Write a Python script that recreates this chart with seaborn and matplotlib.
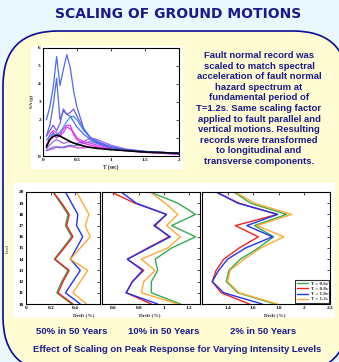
import numpy as np
import pandas as pd
from matplotlib import pyplot as plt
from matplotlib.patches import FancyBboxPatch, Rectangle
import seaborn as sns

sns.set_theme(style="white")
plt.rcParams['font.family'] = ['Liberation Sans', 'DejaVu Sans']

W, H = 339, 362
NAVY = '#1a1a8a'

# ---- top chart: scaled spectra (SA in g vs period in sec)
period = [0.05, 0.1, 0.15, 0.2, 0.25, 0.3, 0.35, 0.4, 0.45, 0.5, 0.6, 0.7, 0.8, 1.0, 1.2, 1.5, 2.0]
sa_rec1 = [2.0, 2.7, 3.8, 5.5, 3.9, 4.8, 5.6, 4.9, 3.6, 2.7, 1.5, 1.0, 0.8, 0.5, 0.35, 0.25, 0.15]
sa_rec2 = [1.1, 1.7, 2.8, 4.3, 2.0, 2.5, 2.3, 2.2, 1.9, 1.6, 1.2, 0.9, 0.7, 0.45, 0.32, 0.22, 0.13]
sa_rec3 = [1.1, 1.4, 1.7, 1.4, 1.8, 2.6, 2.3, 2.4, 2.6, 2.2, 1.5, 1.0, 0.8, 0.5, 0.35, 0.25, 0.15]
sa_rec4 = [0.9, 1.1, 1.2, 1.2, 1.3, 1.6, 1.9, 2.15, 2.2, 2.0, 1.4, 1.0, 0.75, 0.5, 0.35, 0.25, 0.15]
sa_rec5 = [0.6, 0.9, 1.3, 1.0, 1.2, 1.5, 1.7, 1.7, 1.2, 0.9, 0.7, 0.6, 0.5, 0.4, 0.3, 0.2, 0.1]
sa_rec6 = [0.5, 1.2, 1.4, 1.3, 1.1, 1.3, 1.6, 1.5, 1.3, 1.0, 0.8, 0.7, 0.6, 0.45, 0.35, 0.22, 0.12]
sa_rec7 = [0.4, 0.6, 0.8, 0.9, 0.8, 0.7, 0.75, 0.8, 0.7, 0.7, 0.8, 1.0, 0.9, 0.6, 0.4, 0.25, 0.15]
sa_rec8 = [0.3, 0.4, 0.5, 0.5, 0.45, 0.5, 0.55, 0.6, 0.55, 0.6, 0.7, 0.8, 0.7, 0.5, 0.35, 0.25, 0.15]
sa_rec9 = [0.3, 0.35, 0.4, 0.5, 0.5, 0.45, 0.5, 0.55, 0.5, 0.45, 0.45, 0.5, 0.45, 0.4, 0.3, 0.2, 0.1]
sa_target = [0.5, 0.9, 1.08, 1.15, 1.1, 1.0, 0.9, 0.8, 0.72, 0.65, 0.55, 0.47, 0.42, 0.35, 0.3, 0.22, 0.15]

# ---- bottom charts: peak drift (%) per level
levels = [10, 11, 12, 13, 14, 15, 16, 17, 18, 19, 20]
periods = ['T = 0.6s', 'T = 0.8s', 'T = 1.0s', 'T = 1.2s']
period_colors = ['#33aa55', '#ee2222', '#2233ee', '#ffaa33']

drift50_t06 = [0.37, 0.25, 0.29, 0.34, 0.23, 0.30, 0.37, 0.32, 0.34, 0.28, 0.22]
drift50_t08 = [0.38, 0.26, 0.30, 0.35, 0.235, 0.31, 0.38, 0.33, 0.35, 0.29, 0.22]
drift50_t10 = [0.44, 0.32, 0.38, 0.44, 0.36, 0.41, 0.46, 0.41, 0.42, 0.37, 0.32]
drift50_t12 = [0.49, 0.38, 0.44, 0.50, 0.36, 0.44, 0.52, 0.48, 0.51, 0.46, 0.41]

drift10_t06 = [1.13, 0.90, 0.90, 0.95, 0.93, 1.06, 1.25, 1.06, 1.25, 1.11, 0.89]
drift10_t08 = [0.90, 0.70, 0.75, 0.84, 0.71, 0.87, 1.04, 0.93, 1.02, 0.77, 0.58]
drift10_t10 = [0.95, 0.70, 0.75, 0.83, 0.71, 0.88, 1.05, 0.92, 1.02, 0.78, 0.66]
drift10_t12 = [1.11, 0.82, 0.84, 0.93, 0.82, 1.03, 1.13, 1.02, 1.11, 1.01, 0.89]

drift2_t06 = [1.77, 1.48, 1.39, 1.41, 1.50, 1.64, 1.76, 1.61, 1.86, 1.58, 1.45]
drift2_t08 = [1.57, 1.35, 1.28, 1.31, 1.37, 1.49, 1.64, 1.46, 1.79, 1.49, 1.31]
drift2_t10 = [1.67, 1.37, 1.28, 1.33, 1.40, 1.54, 1.75, 1.55, 1.79, 1.48, 1.31]
drift2_t12 = [1.79, 1.49, 1.40, 1.42, 1.53, 1.66, 1.84, 1.63, 1.90, 1.61, 1.46]


def px_axes(fig, x0, y0, x1, y1):
    # pixel box (top-left origin) -> figure axes
    return fig.add_axes([x0 / W, 1 - y1 / H, (x1 - x0) / W, (y1 - y0) / H])


def matlab_look(ax):
    for s in ax.spines.values():
        s.set_color('black')
        s.set_linewidth(0.8)
    ax.tick_params(direction='in', length=2, width=0.5, top=True, right=True,
                   labelsize=3.8, pad=1.5, colors='black')
    for lab in ax.get_xticklabels() + ax.get_yticklabels():
        lab.set_family('Liberation Serif')
        lab.set_weight('bold')


fig = plt.figure(figsize=(W / 100, H / 100), dpi=100)
fig.patch.set_facecolor('#eaf8fd')

bg = fig.add_axes([0, 0, 1, 1])
bg.set_xlim(0, W)
bg.set_ylim(0, H)
bg.axis('off')
bg.add_patch(FancyBboxPatch((3, -10), 345, 341, boxstyle='round,pad=0,rounding_size=55',
                            facecolor='#fffcd3', edgecolor='#0a0a9c', linewidth=1.2))
bg.add_patch(Rectangle((31, H - 169), 152, 123, facecolor='white', edgecolor='none'))
bg.add_patch(Rectangle((13, H - 318), 322, 135, facecolor='white', edgecolor='none'))

bg.text(178, H - 14, 'SCALING OF GROUND MOTIONS', ha='center', va='center',
        fontsize=10, weight='bold', color=NAVY, family='DejaVu Sans')

body = ('Fault normal record was\nscaled to match spectral\nacceleration of fault normal\n'
        'hazard spectrum at\nfundamental period of\nT=1.2s. Same scaling factor\n'
        'applied to fault parallel and\nvertical motions. Resulting\nrecords were transformed\n'
        'to longitudinal and\ntransverse components.')
bg.text(259, H - 108.5, body, ha='center', va='center', multialignment='center',
        fontsize=6.8, weight='bold', color=NAVY, linespacing=1.23)

for x, s in [(72, '50% in 50 Years'), (164, '10% in 50 Years'), (263, '2% in 50 Years')]:
    bg.text(x, H - 332, s, ha='center', va='center', fontsize=6.8, weight='bold', color=NAVY)
bg.text(177, H - 349, 'Effect of Scaling on Peak Response for Varying Intensity Levels',
        ha='center', va='center', fontsize=6.8, weight='bold', color=NAVY)

# ---- top spectra
ax = px_axes(fig, 43, 47.5, 179, 156)
spectra = [(sa_rec9, '#dd44dd'), (sa_rec8, '#6677ee'), (sa_rec7, '#9966ee'),
           (sa_rec6, '#cc44ee'), (sa_rec5, '#ee22ee'), (sa_rec4, '#3399ee'),
           (sa_rec3, '#7755ee'), (sa_rec2, '#5566ee'), (sa_rec1, '#4a6cf0')]
for sa, c in spectra:
    sns.lineplot(x=period, y=sa, color=c, linewidth=0.9, ax=ax)
sns.lineplot(x=period, y=sa_target, color='black', linewidth=1.2, ax=ax)
ax.set_xlim(0, 2)
ax.set_ylim(0, 6)
ax.set_xticks([0, 0.5, 1, 1.5, 2])
ax.set_xticklabels(['0', '0.5', '1', '1.5', '2'])
ax.set_yticks(range(7))
ax.set_xlabel('T (sec)', fontsize=4, family='Liberation Serif', weight='bold', labelpad=1.5)
ax.set_ylabel('SA (g)', fontsize=3.5, family='Liberation Serif', weight='bold', labelpad=3)
ax.set_facecolor('white')
matlab_look(ax)

# ---- bottom drift profiles
panels = [
    ((26, 100), (0, 0.6), [0, 0.2, 0.4], ['0', '0.2', '0.4'],
     [drift50_t06, drift50_t08, drift50_t10, drift50_t12], 0.78),
    ((102, 200), (0.509, 1.285), [0.6, 0.8, 1.0, 1.2], ['0.6', '0.8', '1', '1.2'],
     [drift10_t06, drift10_t08, drift10_t10, drift10_t12], 0.49),
    ((202, 330), (1.2, 2.2), [1.4, 1.6, 1.8, 2.0, 2.2], ['1.4', '1.6', '1.8', '2', '2.2'],
     [drift2_t06, drift2_t08, drift2_t10, drift2_t12], 0.57),
]
for i, ((x0, x1), xlim, xt, xtl, series, lab_x) in enumerate(panels):
    ax = px_axes(fig, x0, 192, x1, 304)
    for drift, name, c in zip(series, periods, period_colors):
        sns.lineplot(x=drift, y=levels, orient='y', sort=False, color=c,
                     linewidth=1.0, label=name, ax=ax, legend=False)
    ax.set_xlim(*xlim)
    ax.set_ylim(10, 20)
    ax.set_xticks(xt)
    ax.set_xticklabels(xtl)
    ax.set_yticks(levels)
    if i == 0:
        ax.set_yticklabels([str(v) for v in levels])
        ax.set_ylabel('Level', fontsize=3, family='Liberation Serif', labelpad=6)
    else:
        ax.set_yticklabels([])
        ax.set_ylabel('')
    ax.set_xlabel('Drift (%)', fontsize=3.8, family='Liberation Serif', weight='bold')
    ax.xaxis.set_label_coords(lab_x, -0.08)
    ax.set_facecolor('none')
    matlab_look(ax)
    if i == 2:
        leg = ax.legend(loc='lower right', fontsize=3.6, frameon=True, fancybox=False,
                        edgecolor='black', borderpad=0.3, labelspacing=0.15,
                        handlelength=2.2, handletextpad=0.6, borderaxespad=0.2,
                        prop={'family': 'Liberation Serif', 'size': 3.6, 'weight': 'bold'})
        leg.get_frame().set_linewidth(0.8)

fig.savefig('out.png', dpi=100, facecolor=fig.get_facecolor())
